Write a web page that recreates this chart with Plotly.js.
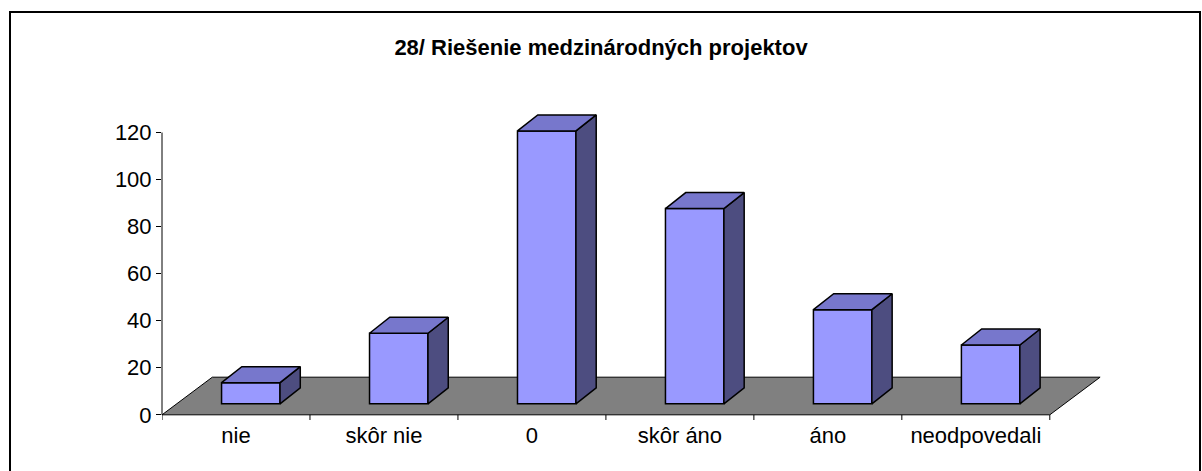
<!DOCTYPE html>
<html>
<head>
<meta charset="utf-8">
<script src="https://cdn.plot.ly/plotly-3.0.1.min.js"></script>
<style>
  html, body { margin: 0; padding: 0; background: #ffffff; }
  #wrap { position: relative; width: 1202px; height: 471px; overflow: hidden; }
  #chart { position: absolute; left: 0; top: 0; width: 1202px; height: 471px; }
  #frame { position: absolute; left: 9px; top: 11px; width: 1192px; height: 480px;
           border: 2px solid #000; pointer-events: none; box-sizing: border-box; }
</style>
</head>
<body>
<div id="wrap">
  <div id="chart"></div>
  <div id="frame"></div>
</div>
<script>
// ---- data ----
const categories = ['nie', 'skôr nie', '0', 'skôr áno', 'áno', 'neodpovedali'];
const values = [9, 30, 116, 83, 40, 25];
const yTickVals = [0, 20, 40, 60, 80, 100, 120];
const titleText = '28/ Riešenie medzinárodných projektov';

// ---- 3D look (styling, in axis units) ----
const FLOOR_DX = 0.34, FLOOR_DY = 16.0;   // depth of the floor
const BAR_SHIFT = 0.1, BAR_BASE = 4.68;   // where bar fronts stand on the floor
const BAR_W = 0.395;                      // bar width
const DEPTH_DX = 0.137, DEPTH_DY = 6.8;   // bar depth
const FRONT = '#9999FF', TOP = '#7777CC', SIDE = '#4D4D80', FLOOR = '#808080';

// ---- layout geometry ----
const PX_X = 148, PX_Y = 2.3525;
const XR = [-0.5, 5.9], YR = [-2.2, 130];
const L = 162, ZERO_Y = 415;
const plotW = (XR[1] - XR[0]) * PX_X;
const T = ZERO_Y - YR[1] * PX_Y;
const B = 471 - (ZERO_Y - YR[0] * PX_Y);
const R = 1202 - L - plotW;

const FONT = 'Liberation Sans, Arial, sans-serif';
const n = categories.length;
const idx = categories.map((_, i) => i);

const traces = [];
// front faces: real bars
traces.push({
  type: 'bar',
  x: idx.map(i => i + BAR_SHIFT),
  y: values,
  base: values.map(() => BAR_BASE),
  width: BAR_W,
  marker: { color: FRONT, line: { color: '#000', width: 1.5 } },
  hoverinfo: 'skip', showlegend: false
});
// side & top faces
values.forEach((v, i) => {
  const xl = i + BAR_SHIFT - BAR_W / 2, xr = xl + BAR_W;
  const yb = BAR_BASE, yt = BAR_BASE + v;
  traces.push({
    type: 'scatter', mode: 'lines', fill: 'toself', fillcolor: SIDE,
    x: [xr, xr + DEPTH_DX, xr + DEPTH_DX, xr, xr],
    y: [yb, yb + DEPTH_DY, yt + DEPTH_DY, yt, yb],
    line: { color: '#000', width: 1.5 }, hoverinfo: 'skip', showlegend: false
  });
  traces.push({
    type: 'scatter', mode: 'lines', fill: 'toself', fillcolor: TOP,
    x: [xl, xr, xr + DEPTH_DX, xl + DEPTH_DX, xl],
    y: [yt, yt, yt + DEPTH_DY, yt + DEPTH_DY, yt],
    line: { color: '#000', width: 1.5 }, hoverinfo: 'skip', showlegend: false
  });
});

const shapes = [];
// floor
const fx0 = -0.5, fx1 = n - 0.5;
shapes.push({
  type: 'path', xref: 'x', yref: 'y', layer: 'below',
  path: `M ${fx0},0 L ${fx1},0 L ${fx1 + FLOOR_DX},${FLOOR_DY} L ${fx0 + FLOOR_DX},${FLOOR_DY} Z`,
  fillcolor: FLOOR, line: { color: '#000', width: 1 }
});
// value axis line
shapes.push({
  type: 'line', xref: 'paper', yref: 'y', x0: 0, x1: 0,
  y0: 0, y1: yTickVals[yTickVals.length - 1],
  line: { color: '#000', width: 1 }
});
// category boundary ticks
for (let k = 0; k <= n; k++) {
  shapes.push({
    type: 'line', xref: 'x', yref: 'y', x0: k - 0.5, x1: k - 0.5,
    y0: 0, y1: YR[0], line: { color: '#000', width: 1 }
  });
}

const layout = {
  width: 1202, height: 471,
  margin: { l: L, r: R, t: T, b: B, pad: 0 },
  paper_bgcolor: '#ffffff', plot_bgcolor: 'rgba(0,0,0,0)',
  font: { family: FONT, size: 22, color: '#000' },
  title: {
    text: '<b>' + titleText + '</b>',
    font: { family: FONT, size: 22, color: '#000' },
    x: 0.5, xref: 'container', xanchor: 'center',
    y: 1 - 47 / 471, yref: 'container', yanchor: 'middle'
  },
  xaxis: {
    range: XR, tickvals: idx, ticktext: categories, ticks: '',
    showline: false, showgrid: false, zeroline: false,
    tickfont: { family: FONT, size: 22, color: '#000' },
    fixedrange: true
  },
  yaxis: {
    range: YR, tickvals: yTickVals, ticktext: yTickVals.map(String),
    ticks: 'outside', ticklen: 5, tickcolor: '#000', tickwidth: 1,
    showline: false, showgrid: false, zeroline: false,
    tickfont: { family: FONT, size: 22, color: '#000' },
    fixedrange: true
  },
  shapes: shapes,
  showlegend: false,
  bargap: 0
};

Plotly.newPlot('chart', traces, layout, { displayModeBar: false, staticPlot: true });
</script>
</body>
</html>
